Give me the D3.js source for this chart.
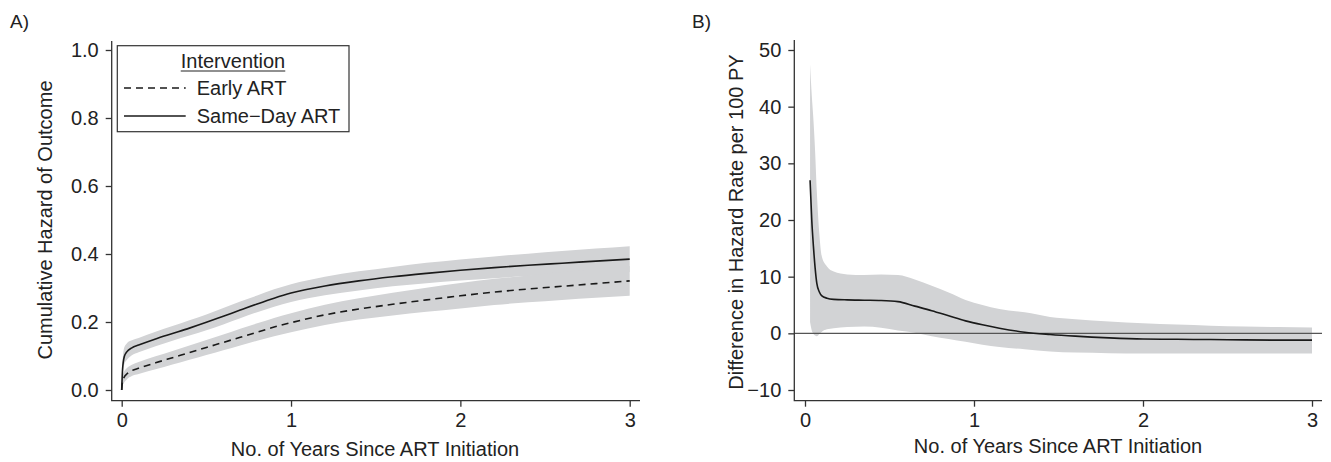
<!DOCTYPE html>
<html>
<head>
<meta charset="utf-8">
<script src="https://cdn.jsdelivr.net/npm/d3@7"></script>
<style>
  body { margin: 0; background: #fff; }
  svg { display: block; font-family: 'Liberation Sans', Arial, sans-serif; }
  .tick text { font-size: 20px; fill: #222; }
  .tick line { stroke: #333; stroke-width: 1.3; }
</style>
</head>
<body>
<svg id="chart" width="1331" height="462"></svg>
<script>
// Panel A: cumulative hazard by intervention
const yearsA = [0, 0.005, 0.015, 0.03, 0.06, 0.1, 0.2, 0.3, 0.4, 0.5, 0.6, 0.7, 0.8, 0.9, 1.0, 1.2, 1.4, 1.6, 1.8, 2.0, 2.2, 2.4, 2.6, 2.8, 3.0]
const sameDay = [0, 0.06, 0.098, 0.112, 0.124, 0.132, 0.150, 0.166, 0.182, 0.199, 0.217, 0.235, 0.253, 0.270, 0.285, 0.306, 0.321, 0.333, 0.343, 0.352, 0.360, 0.367, 0.373, 0.379, 0.385]
const sameDayHi = [0, 0.08, 0.125, 0.137, 0.146, 0.153, 0.171, 0.188, 0.205, 0.222, 0.241, 0.260, 0.278, 0.296, 0.311, 0.333, 0.349, 0.362, 0.374, 0.384, 0.393, 0.401, 0.409, 0.416, 0.423]
const sameDayLo = [0, 0.04, 0.075, 0.088, 0.102, 0.111, 0.129, 0.145, 0.160, 0.176, 0.193, 0.211, 0.229, 0.245, 0.259, 0.279, 0.293, 0.305, 0.314, 0.322, 0.329, 0.335, 0.339, 0.343, 0.347]
const early = [0, 0.025, 0.038, 0.047, 0.057, 0.064, 0.080, 0.095, 0.110, 0.125, 0.140, 0.155, 0.170, 0.185, 0.198, 0.221, 0.238, 0.252, 0.265, 0.277, 0.288, 0.297, 0.305, 0.313, 0.321]
const earlyHi = [0, 0.04, 0.055, 0.064, 0.074, 0.082, 0.099, 0.115, 0.131, 0.147, 0.163, 0.180, 0.196, 0.212, 0.226, 0.251, 0.270, 0.286, 0.301, 0.315, 0.327, 0.337, 0.347, 0.356, 0.365]
const earlyLo = [0, 0.012, 0.022, 0.031, 0.041, 0.047, 0.061, 0.075, 0.089, 0.103, 0.117, 0.131, 0.145, 0.158, 0.170, 0.191, 0.207, 0.219, 0.230, 0.240, 0.250, 0.258, 0.265, 0.271, 0.277]

// Panel B: difference in hazard rate per 100 PY
const yearsB = [0.03, 0.04, 0.05, 0.06, 0.07, 0.085, 0.1, 0.13, 0.17, 0.25, 0.35, 0.45, 0.55, 0.65, 0.75, 0.85, 0.95, 1.05, 1.15, 1.3, 1.45, 1.6, 1.8, 2.0, 2.2, 2.4, 2.6, 2.8, 3.0]
const diff = [27, 20, 15.3, 11.5, 8.8, 7.3, 6.6, 6.2, 6.0, 5.9, 5.85, 5.8, 5.6, 4.8, 4.0, 3.1, 2.2, 1.5, 0.9, 0.2, -0.2, -0.5, -0.8, -1.0, -1.05, -1.1, -1.15, -1.2, -1.2]
const diffHi = [47.5, 42, 37.6, 32, 25, 17.5, 13.5, 11.8, 10.9, 10.4, 10.3, 10.4, 10.3, 9.5, 8.4, 7.2, 5.9, 5.0, 4.3, 3.7, 2.9, 2.5, 2.1, 1.8, 1.55, 1.35, 1.2, 1.1, 1.05]
const diffLo = [2, 0.5, -0.1, -0.4, -0.5, -0.1, 0.3, 0.7, 0.9, 1.1, 1.2, 1.0, 0.5, 0.1, -0.5, -1.0, -1.5, -2.0, -2.4, -2.8, -3.2, -3.4, -3.5, -3.55, -3.55, -3.55, -3.55, -3.55, -3.55]

const xTicks = [0, 1, 2, 3]
const yTicksA = [0, 0.2, 0.4, 0.6, 0.8, 1.0]
const yTicksB = [-10, 0, 10, 20, 30, 40, 50]
const legendItems = [
  { label: 'Early ART', dash: '7,5' },
  { label: 'Same\u2212Day ART', dash: null }
]

const svg = d3.select('#chart')
const bandColor = '#d2d3d5'
const lineColor = '#1a1a1a'
const axisColor = '#333'

function drawPanel (opts) {
  const { x, y, g } = opts

  // axes
  const xAxis = g.append('g')
    .attr('transform', `translate(0,${opts.axisY})`)
    .call(d3.axisBottom(x).tickValues(xTicks).tickFormat(d3.format('d')).tickSize(6).tickPadding(6))
  xAxis.select('.domain').remove()

  const yAxis = g.append('g')
    .attr('transform', `translate(${opts.axisX},0)`)
    .call(d3.axisLeft(y).tickValues(opts.yTicks).tickFormat(opts.yFormat).tickSize(6).tickPadding(7))
  yAxis.select('.domain').remove()

  g.append('path')
    .attr('d', `M${opts.axisX},${opts.axisTop}V${opts.axisY}H${opts.axisRight}`)
    .style('fill', 'none')
    .style('stroke', axisColor)
    .style('stroke-width', 1.3)

  g.append('text')
    .attr('x', opts.xTitleX)
    .attr('y', opts.xTitleY)
    .attr('text-anchor', 'middle')
    .style('font-size', '20px')
    .style('fill', '#222')
    .text('No. of Years Since ART Initiation')

  g.append('text')
    .attr('transform', `translate(${opts.yTitleX},${opts.yTitleY}) rotate(-90)`)
    .attr('text-anchor', 'middle')
    .style('font-size', '20px')
    .style('fill', '#222')
    .text(opts.yTitle)

  g.append('text')
    .attr('x', opts.tagX)
    .attr('y', 28)
    .style('font-size', '19px')
    .style('fill', '#222')
    .text(opts.tag)
}

// ---------- Panel A ----------
const gA = svg.append('g')
const xA = d3.scaleLinear().domain([0, 3]).range([121.7, 629.7])
const yA = d3.scaleLinear().domain([0, 1]).range([390, 50])

const areaA = (lo, hi) => d3.area()
  .x((d, i) => xA(yearsA[i]))
  .y0((d, i) => yA(lo[i]))
  .y1((d, i) => yA(hi[i]))
  .curve(d3.curveMonotoneX)(yearsA)

const lineA = vals => d3.line()
  .x((d, i) => xA(yearsA[i]))
  .y((d, i) => yA(vals[i]))
  .curve(d3.curveMonotoneX)(yearsA)

gA.append('path').attr('d', areaA(sameDayLo, sameDayHi)).style('fill', bandColor)
gA.append('path').attr('d', areaA(earlyLo, earlyHi)).style('fill', bandColor)
gA.append('path').attr('d', lineA(sameDay))
  .style('fill', 'none').style('stroke', lineColor).style('stroke-width', 1.6)
gA.append('path').attr('d', lineA(early))
  .style('fill', 'none').style('stroke', lineColor).style('stroke-width', 1.6)
  .style('stroke-dasharray', '7,5')

drawPanel({
  g: gA,
  x: xA,
  y: yA,
  axisX: 111.7,
  axisY: 400.7,
  axisTop: 41,
  axisRight: 640,
  yTicks: yTicksA,
  yFormat: d3.format('.1f'),
  xTitleX: 375,
  xTitleY: 456,
  yTitle: 'Cumulative Hazard of Outcome',
  yTitleX: 52,
  yTitleY: 220,
  tag: 'A)',
  tagX: 10
})

// legend
const legend = gA.append('g')
legend.append('rect')
  .attr('x', 117.3)
  .attr('y', 45.7)
  .attr('width', 231.7)
  .attr('height', 86)
  .style('fill', '#fff')
  .style('stroke', axisColor)
  .style('stroke-width', 1.2)

const legTitle = legend.append('text')
  .attr('x', 233)
  .attr('y', 68)
  .attr('text-anchor', 'middle')
  .style('font-size', '20px')
  .style('fill', '#222')
  .text('Intervention')
const tw = legTitle.node().getComputedTextLength()
legend.append('line')
  .attr('x1', 233 - tw / 2)
  .attr('x2', 233 + tw / 2)
  .attr('y1', 71)
  .attr('y2', 71)
  .style('stroke', '#222')
  .style('stroke-width', 1.2)

legendItems.forEach((item, i) => {
  const ly = 88 + i * 28
  legend.append('line')
    .attr('x1', 124)
    .attr('x2', 185.7)
    .attr('y1', ly)
    .attr('y2', ly)
    .style('stroke', lineColor)
    .style('stroke-width', 1.6)
    .style('stroke-dasharray', item.dash)
  legend.append('text')
    .attr('x', 196.7)
    .attr('y', ly + 7)
    .style('font-size', '20px')
    .style('fill', '#222')
    .text(item.label)
})

// ---------- Panel B ----------
const gB = svg.append('g')
const xB = d3.scaleLinear().domain([0, 3]).range([805, 1312])
const yB = d3.scaleLinear().domain([-10, 50]).range([390, 50])

gB.append('path')
  .attr('d', d3.area()
    .x((d, i) => xB(yearsB[i]))
    .y0((d, i) => yB(diffLo[i]))
    .y1((d, i) => yB(diffHi[i]))
    .curve(d3.curveMonotoneX)(yearsB))
  .style('fill', bandColor)

// zero reference line
gB.append('line')
  .attr('x1', 794.3)
  .attr('x2', 1322)
  .attr('y1', yB(0))
  .attr('y2', yB(0))
  .style('stroke', '#555')
  .style('stroke-width', 1.1)

gB.append('path')
  .attr('d', d3.line()
    .x((d, i) => xB(yearsB[i]))
    .y((d, i) => yB(diff[i]))
    .curve(d3.curveMonotoneX)(yearsB))
  .style('fill', 'none')
  .style('stroke', lineColor)
  .style('stroke-width', 1.6)

drawPanel({
  g: gB,
  x: xB,
  y: yB,
  axisX: 794.3,
  axisY: 400.7,
  axisTop: 40,
  axisRight: 1322,
  yTicks: yTicksB,
  yFormat: d3.format('d'),
  xTitleX: 1058,
  xTitleY: 453,
  yTitle: 'Difference in Hazard Rate per 100 PY',
  yTitleX: 743,
  yTitleY: 222,
  tag: 'B)',
  tagX: 692
})
</script>
</body>
</html>
